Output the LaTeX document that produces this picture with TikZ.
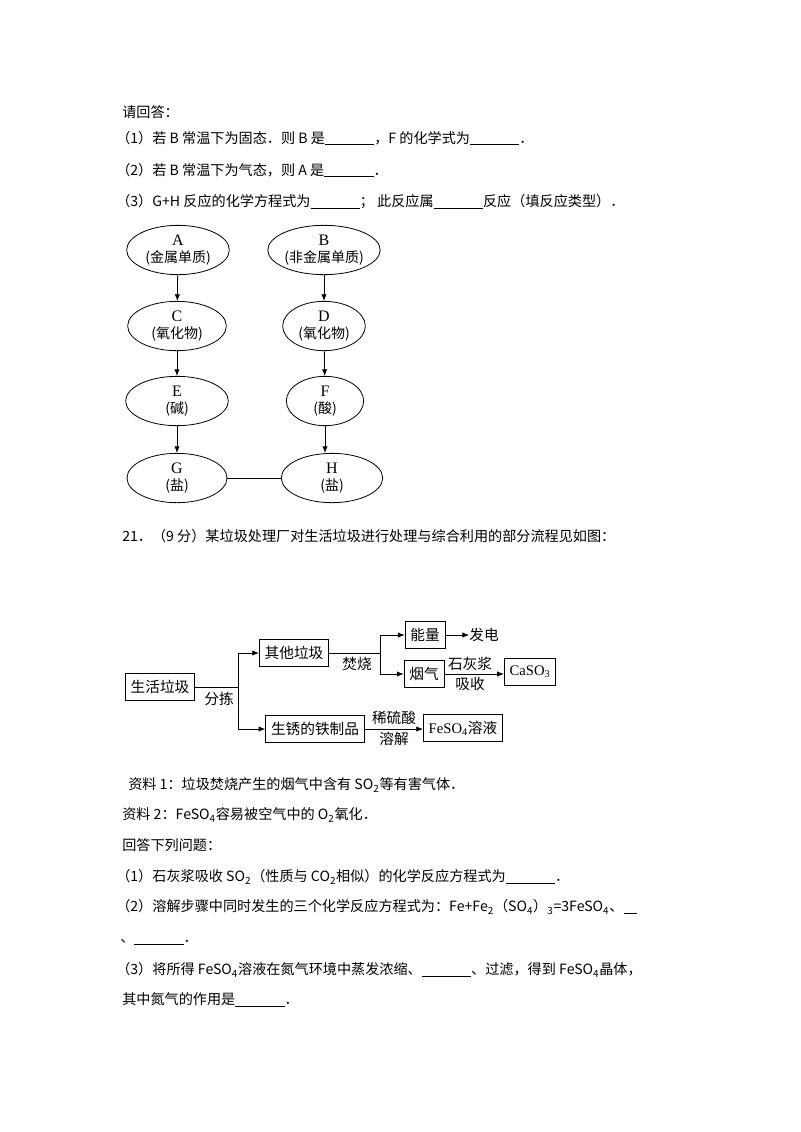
\documentclass[tikz,border=0pt]{standalone}
\usepackage{fontspec}
\setmainfont{Noto Sans CJK SC}
\newfontfamily\lat{Liberation Serif}
\usetikzlibrary{shapes.geometric,arrows.meta}
\newcommand{\blk}{\rule[-1.5pt]{37pt}{0.5pt}}
\newcommand{\sbs}[1]{\textsubscript{#1}}
\tikzset{
  txt/.style={anchor=west,inner sep=0pt,font=\fontsize{10.6pt}{12pt}\selectfont},
  ell/.style={ellipse,draw,line width=0.6pt,minimum width=76pt,minimum height=37pt,inner sep=0pt,align=center,font=\fontsize{10.5pt}{12.5pt}\selectfont},
  bx/.style={draw,line width=0.6pt,minimum height=20pt,inner xsep=4pt,inner ysep=2pt,font=\fontsize{11pt}{12pt}\selectfont},
  lab/.style={inner sep=0pt,font=\fontsize{11pt}{12pt}\selectfont},
  arr/.style={-{Latex[length=5pt,width=4pt]},line width=0.6pt},
  ln/.style={line width=0.6pt}
}
\begin{document}
\begin{tikzpicture}[x=0.75pt,y=-0.75pt]
\useasboundingbox[fill=white] (0,0) rectangle (800,1132);
% top text
\node[txt] (t0) at (122,112) {请回答：};
\node[txt] (t1) at (116,138) {（1）若 B 常温下为固态．则 B 是\blk，F 的化学式为\blk．};
\node[txt] (t2) at (116,170) {（2）若 B 常温下为气态，则 A 是\blk．};
\node[txt] (t3) at (116,202) {（3）G+H 反应的化学方程式为\blk；\ 此反应属\blk 反应（填反应类型）．};
% ellipse diagram
\node[ell,minimum width=77pt] (A) at (178,250) {{\lat\large A}\\(金属单质)};
\node[ell,minimum width=70pt] (B) at (324,250) {{\lat\large B}\\(非金属单质)};
\node[ell,minimum width=74pt] (C) at (177,326) {{\lat\large C}\\(氧化物)};
\node[ell,minimum width=62pt] (D) at (324,326) {{\lat\large D}\\(氧化物)};
\node[ell,minimum width=77pt] (E) at (177,401) {{\lat\large E}\\(碱)};
\node[ell,minimum width=58pt] (F) at (325,401) {{\lat\large F}\\(酸)};
\node[ell,minimum width=75pt] (G) at (177,478) {{\lat\large G}\\(盐)};
\node[ell,minimum width=76pt] (H) at (332,478) {{\lat\large H}\\(盐)};
\draw[arr] (A) -- (C);
\draw[arr] (B) -- (D);
\draw[arr] (C) -- (E);
\draw[arr] (D) -- (F);
\draw[arr] (E) -- (G);
\draw[arr] (F.south) -- (F.south |- H.north);
\draw[ln] (G) -- (H);
% question 21
\node[txt] (q21) at (122,536) {21．（9 分）某垃圾处理厂对生活垃圾进行处理与综合利用的部分流程见如图：};
% flow diagram
\node[bx] (s) at (160,687) {生活垃圾};
\node[bx] (o) at (294,653) {其他垃圾};
\node[bx] (r) at (315,729) {生锈的铁制品};
\node[bx] (n) at (425,635) {能量};
\node[bx] (y) at (424,674) {烟气};
\node[bx] (c) at (530,672) {\lat CaSO\sbs{3}};
\node[bx] (f) at (463,728) {{\lat FeSO\sbs{4}}溶液};
\node[lab] (fd) at (484,635) {发电};
\coordinate (j1) at (238,687);
\coordinate (j2) at (380,653);
\draw[ln] (s.east) -- (j1);
\draw[arr] (j1) |- (o.west);
\draw[arr] (j1) |- (r.west);
\draw[ln] (o.east) -- (j2);
\draw[arr] (j2) |- (n.west);
\draw[arr] (j2) |- (y.west);
\draw[arr] (n.east) -- (fd.west);
\draw[arr] (y.east) -- (y.east -| c.west);
\draw[arr] (r.east) -- (r.east -| f.west);
\node[lab] at (219,699) {分拣};
\node[lab] at (357,664) {焚烧};
\node[lab] at (470,664) {石灰浆};
\node[lab] at (470,684) {吸收};
\node[lab] at (394,718) {稀硫酸};
\node[lab] at (394,739) {溶解};
% bottom text
\node[txt] (b1) at (128,785) {资料 1：垃圾焚烧产生的烟气中含有 SO\sbs{2}等有害气体．};
\node[txt] (b2) at (122,815) {资料 2：FeSO\sbs{4}容易被空气中的 O\sbs{2}氧化．};
\node[txt] (b3) at (122,845) {回答下列问题：};
\node[txt] (b4) at (116,877) {（1）石灰浆吸收 SO\sbs{2}（性质与 CO\sbs{2}相似）的化学反应方程式为\blk．};
\node[txt] (b5) at (116,907) {（2）溶解步骤中同时发生的三个化学反应方程式为：Fe+Fe\sbs{2}（SO\sbs{4}）\sbs{3}=3FeSO\sbs{4}、\rule[-1.5pt]{10pt}{0.5pt}};
\node[txt] (b6) at (120,942) {、\blk．};
\node[txt] (b7) at (116,970) {（3）将所得 FeSO\sbs{4}溶液在氮气环境中蒸发浓缩、\blk、过滤，得到 FeSO\sbs{4}晶体，};
\node[txt] (b8) at (122,1000) {其中氮气的作用是\blk．};
\end{tikzpicture}
\end{document}
